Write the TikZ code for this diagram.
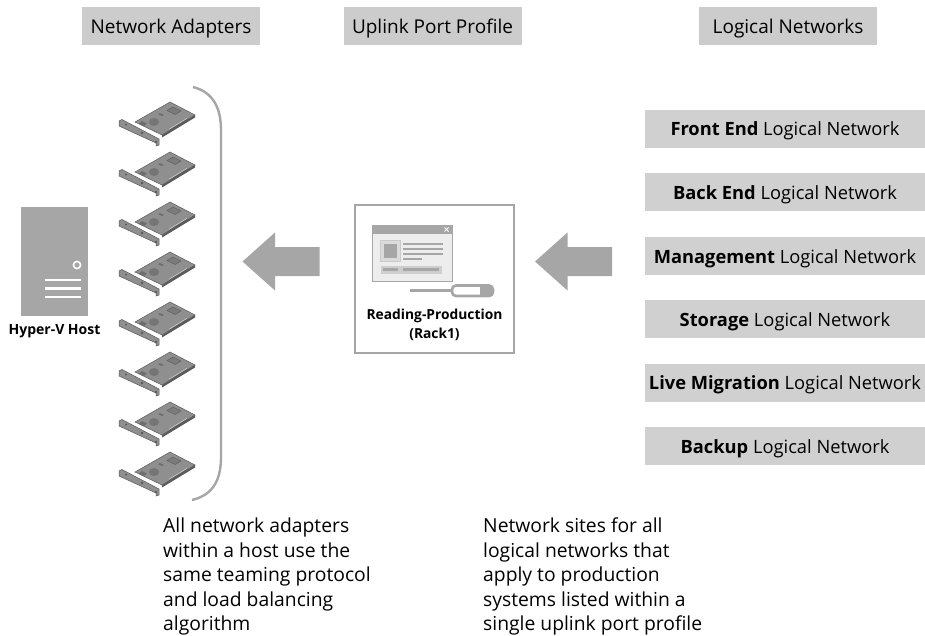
\documentclass[tikz,border=0pt]{standalone}
\usepackage{fontspec}
\setmainfont{Open Sans}
\begin{document}
\begin{tikzpicture}[x=1pt,y=-1pt,
  font=\fontsize{19}{22}\selectfont,
  header/.style={fill=hdrgray, minimum width=178pt, minimum height=38pt, inner sep=0pt,
    text depth=0pt, text height=15pt},
  netbox/.style={fill=boxgray, minimum width=280pt, minimum height=38pt, inner sep=0pt,
    font=\fontsize{18.3}{22}\selectfont, text depth=0pt, text height=14pt},
  note/.style={anchor=north west, align=left, inner sep=0pt,
    font=\fontsize{19.3}{24.5}\selectfont},
  blockarrow/.style={fill=arrowgray, draw=none},
  nic/.pic={
    % bracket strip with its tab
    \fill[fill=nicbody, draw=nicedge, line width=0.5pt]
      (1,19) -- (4,17.5) -- (41,37) -- (41,43) -- (38,44) -- (38,41) -- (1,24) -- cycle;
    % board edge (thickness)
    \fill[fill=nicedge] (77,13) -- (44,33) -- (44,35.5) -- (77,15.5) -- cycle;
    % board
    \fill[fill=nicbody, draw=nicedge, line width=0.5pt]
      (52,0) -- (77,13) -- (44,33) -- (17,20) -- cycle;
    % memory slot
    \fill[fill=nicdark!60!nicbody, draw=nicedge, line width=0.4pt]
      (55,5) -- (63,9) -- (57,12.5) -- (49,8.5) -- cycle;
    % small chips
    \fill[fill=nicdark] (24,19) -- (29,21.5) -- (26,24) -- (21,21.5) -- cycle;
    \fill[fill=nicdark] (42,11) -- (46,13) -- (44,14) -- (40,12) -- cycle;
    % main chip
    \fill[fill=nicdark!80!nicbody] (36,20) ellipse (5pt and 4pt);
    % edge connector
    \draw[nicedge, line width=0.8pt] (70,17) -- (52,28);
    \draw[white!70!nicbody, line width=0.4pt] (69,16.3) -- (51,27.3);
    % screws on the bracket
    \fill[nicedge] (24,31) circle (1.3pt);
    \fill[nicedge] (38,40) circle (1.3pt);
    \fill[nicedge] (8,22.5) circle (1pt);
  }
]
\definecolor{hdrgray}{HTML}{CCCCCC}
\definecolor{boxgray}{HTML}{D0D0D0}
\definecolor{arrowgray}{HTML}{A6A6A6}
\definecolor{srvgray}{HTML}{A6A6A6}
\definecolor{linegray}{HTML}{A6A6A6}
\definecolor{nicbody}{HTML}{8F8F8F}
\definecolor{nicedge}{HTML}{5A5A5A}
\definecolor{nicdark}{HTML}{6E6E6E}

\useasboundingbox (0,0) rectangle (925,635);

% column headings
\node[header] (hAdapters) at (171,26) {Network Adapters};
\node[header] (hProfile)  at (432.5,26) {Uplink Port Profile};
\node[header] (hNetworks) at (788,26) {Logical Networks};

% logical networks
\node[netbox] (nFront) at (785,128.5) {\textbf{Front End} Logical Network};
\node[netbox] (nBack)  at (785,192)   {\textbf{Back End} Logical Network};
\node[netbox] (nMgmt)  at (785,256)   {\textbf{Management} Logical Network};
\node[netbox] (nStor)  at (785,319)   {\textbf{Storage} Logical Network};
\node[netbox] (nLive)  at (785,382.5) {\textbf{Live Migration} Logical Network};
\node[netbox] (nBkup)  at (785,446)   {\textbf{Backup} Logical Network};

% Hyper-V host
\node[fill=srvgray, minimum width=67pt, minimum height=109pt, inner sep=0pt] (host) at (54.5,261.5) {};
\draw[white, line width=1.6pt] (77,265) circle (3.6pt);
\draw[white, line width=2.4pt] (45,280) -- (81,280) (45,288.5) -- (81,288.5) (45,297) -- (81,297);
\node[font=\fontsize{14}{16}\selectfont\bfseries, inner sep=0pt] (hostLabel) at (54.5,331) {Hyper-V Host};

% network adapters
\foreach \i in {0,...,7} {
  \pic at (118,{102+50*\i}) {nic};
}

% brace grouping the adapters
\draw[linegray, line width=2.4pt]
  (193,87) .. controls (213,92) and (221,108) .. (221,130)
  -- (221,457) .. controls (221,480) and (213,495) .. (192,500);

% uplink port profile
\node[draw=linegray, line width=1.8pt, minimum width=159pt, minimum height=148pt, inner sep=0pt] (profile) at (434.5,279) {};
% window icon
\draw[fill=white!93!black, draw=linegray, line width=1pt] (372,225) rectangle (452,281);
\fill[srvgray] (372,225) rectangle (452,234);
\draw[white, line width=1pt] (444.5,227.5) -- (448.5,231.5) (444.5,231.5) -- (448.5,227.5);
\draw[linegray!60, fill=linegray!40, line width=0.6pt] (380.5,240.5) rectangle (400,261);
\fill[linegray] (383.5,243.5) rectangle (397,258);
\draw[linegray, line width=2pt] (403,244) -- (442.5,244) (403,249.3) -- (442.5,249.3)
  (403,254) -- (442.5,254) (403,258.5) -- (422,258.5);
\fill[linegray!55] (380.5,265.5) rectangle (441.5,273.5);
\fill[linegray] (383,268) rectangle (398,271);
\fill[linegray] (403,268) rectangle (439,271);
% screwdriver
\draw[linegray, line width=2.6pt] (410,290.5) -- (453,290.5);
\draw[linegray, fill=white, line width=2.6pt, rounded corners=4pt] (452,285.5) rectangle (493,296);
\fill[linegray] (480,286) rectangle (492,295.5);
\node[font=\fontsize{13.8}{16}\selectfont\bfseries, inner sep=0pt] (profLine1) at (434.5,316) {Reading-Production};
\node[font=\fontsize{13.8}{16}\selectfont\bfseries, inner sep=0pt] (profLine2) at (434.5,334) {(Rack1)};

% flow arrows
\coordinate (arrA) at (242.5,261.5);
\coordinate (arrB) at (535,261.5);
\fill[blockarrow] (arrA) -- ++(32.5,-29) -- ++(0,14.5) -- ++(44.5,0) -- ++(0,29) -- ++(-44.5,0) -- ++(0,14.5) -- cycle;
\fill[blockarrow] (arrB) -- ++(32.5,-29) -- ++(0,14.5) -- ++(44.5,0) -- ++(0,29) -- ++(-44.5,0) -- ++(0,14.5) -- cycle;

% notes
\node[note] (noteAdapters) at (163,518) {All network adapters\\within a host use the\\same teaming protocol\\and load balancing\\algorithm};
\node[note] (noteNetworks) at (483,518) {Network sites for all\\logical networks that\\apply to production\\systems listed within a\\single uplink port profile};
\end{tikzpicture}
\end{document}
